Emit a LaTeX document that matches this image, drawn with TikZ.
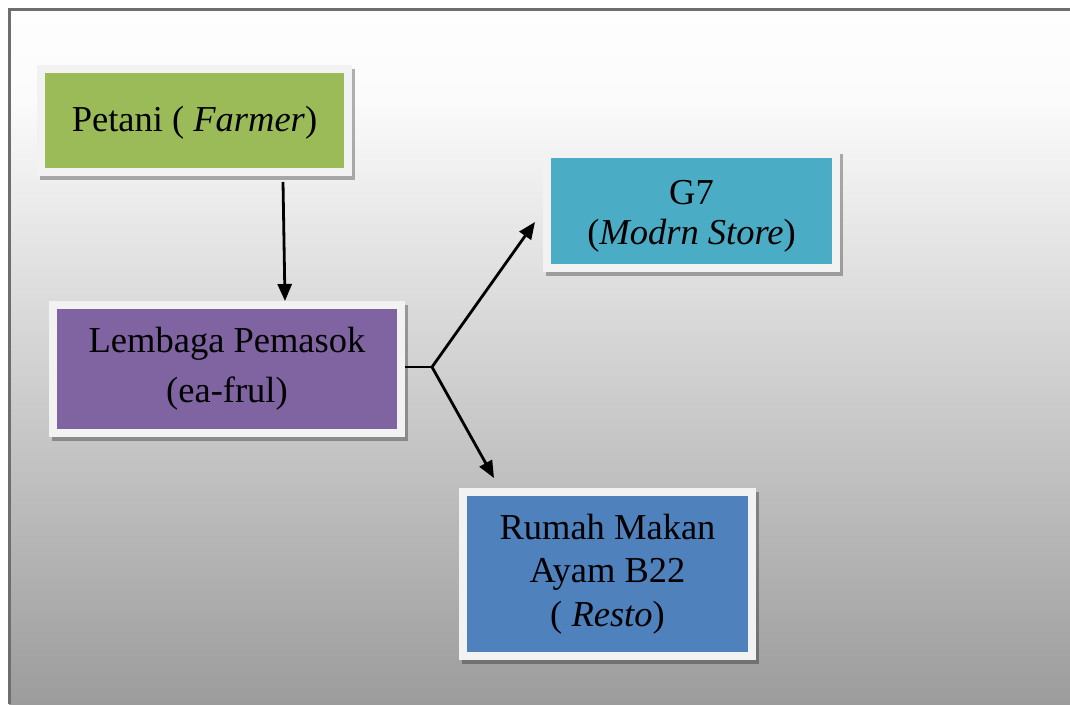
\documentclass[tikz,border=0pt]{standalone}
\usepackage{fontspec}
\setmainfont{Liberation Serif}
\usetikzlibrary{arrows.meta,backgrounds,calc}
\definecolor{bgT}{HTML}{FEFEFE}
\definecolor{bgM}{HTML}{FBFBFB}
\definecolor{bgB}{HTML}{9C9C9C}
\definecolor{frameG}{HTML}{6E6E6E}
\definecolor{frameW}{HTML}{F2F2F2}
\definecolor{cGreen}{HTML}{9BBB59}
\definecolor{cPurple}{HTML}{8064A2}
\definecolor{cTeal}{HTML}{4BACC6}
\definecolor{cBlue}{HTML}{4F81BD}
\pgfdeclareverticalshading{bgshade}{100bp}{color(0bp)=(bgB); color(25bp)=(bgB); color(68.5bp)=(bgM); color(75bp)=(bgT); color(100bp)=(bgT)}
\begin{document}
\begin{tikzpicture}[x=1pt,y=-1pt,
  box/.style={draw=frameW, line width=8pt, inner sep=0pt, align=center, text=black},
  arr/.style={line width=2.8pt, -{Triangle[length=17pt,width=14pt]}},
  shadowbox/.style={fill=black, opacity=0.3},
]
\useasboundingbox (0,0) rectangle (1070,704);
\begin{scope}[on background layer]
  \shade[shading=bgshade] (9,9) rectangle (1070,704);
  \draw[line width=3pt, frameG] (9.5,704) -- (9.5,9.5) -- (1070,9.5);
\end{scope}

\node[box, fill=cGreen, minimum width=307pt, minimum height=103pt,
  font=\fontsize{36.5}{42.7}\selectfont, text depth=4pt] (p) at (194.5,120.5) {Petani ( \textit{Farmer})};
\node[box, fill=cPurple, minimum width=348pt, minimum height=128pt,
  font=\fontsize{36.5}{50}\selectfont] (l) at (227,369) {Lembaga Pemasok\\(ea-frul)};
\node[box, fill=cTeal, minimum width=289pt, minimum height=114pt,
  font=\fontsize{36.5}{40}\selectfont] (g) at (691.5,211) {\rule{0pt}{34pt}G7\\(\textit{Modrn Store})};
\node[box, fill=cBlue, minimum width=289pt, minimum height=164pt,
  font=\fontsize{36.5}{43.5}\selectfont] (r) at (607.5,574) {Rumah Makan\\Ayam B22\\( \textit{Resto})};

\begin{scope}[on background layer]
  \foreach \n in {p,l,g,r}
    \fill[shadowbox] ($(\n.north west)+(3,4)$) rectangle ($(\n.south east)+(3,4)$);
\end{scope}

\coordinate (j) at ($(l.east)+(27,-2)$);
\draw[arr] ([xshift=88.5pt,yshift=-6pt]p.south) -- ([xshift=58pt]l.north);
\draw[line width=2.8pt] ([yshift=2pt]l.east) -- (j);
\draw[arr] (j) -- ($(g.west)+(-8,11)$);
\draw[arr] (j) -- ($(r.north west)+(35,-10)$);
\end{tikzpicture}
\end{document}
